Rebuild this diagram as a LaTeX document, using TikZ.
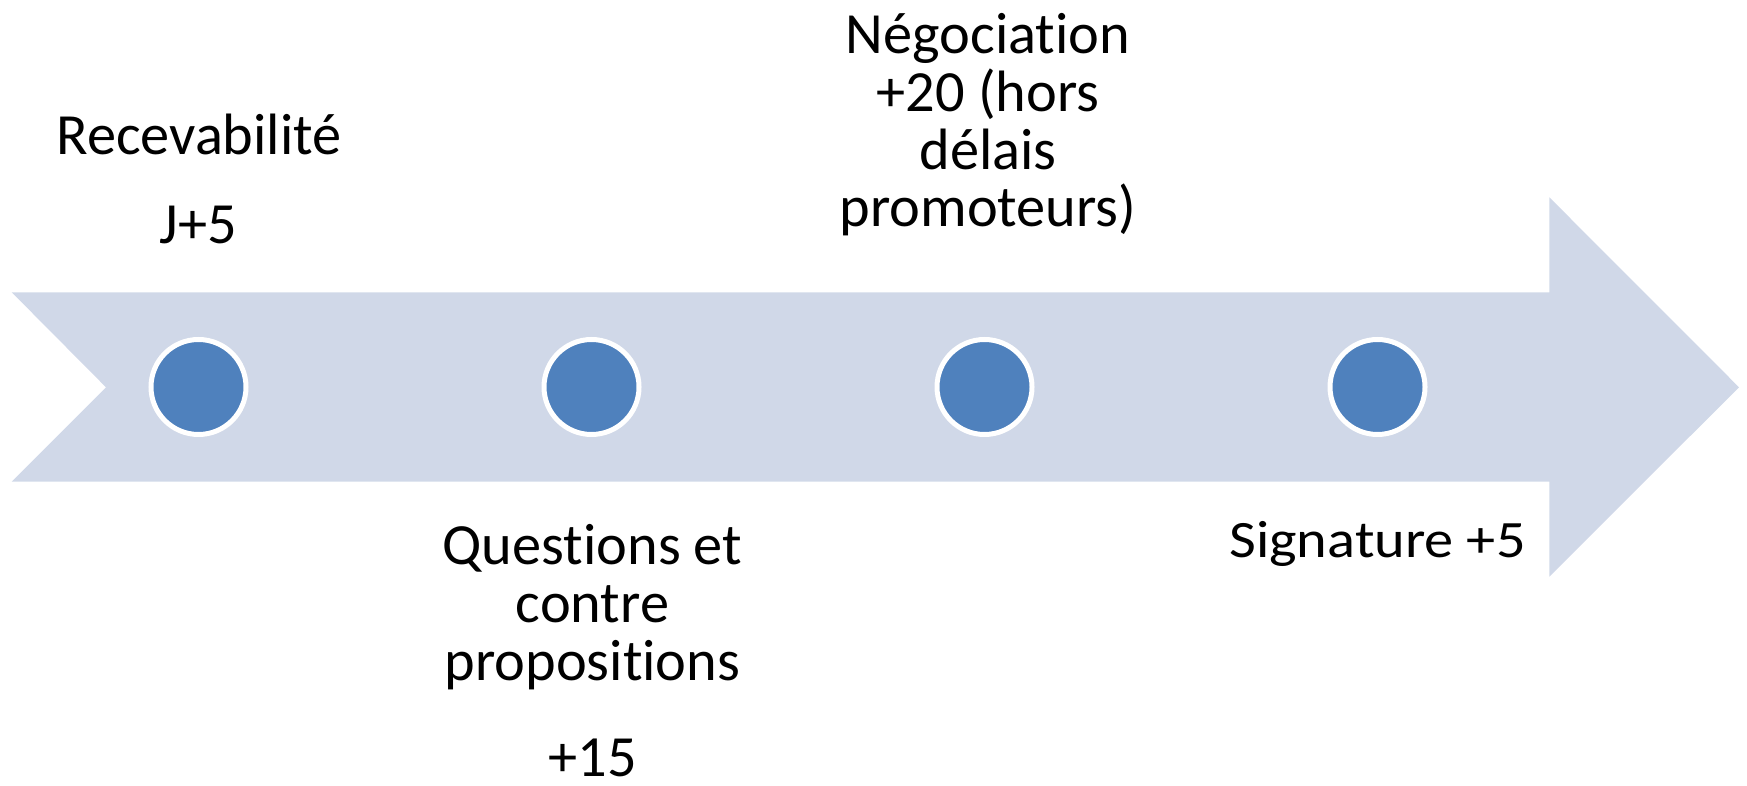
\documentclass[tikz,border=0pt]{standalone}
\usepackage{fontspec}
\setmainfont{Carlito}[Ligatures={NoCommon,NoRequired,NoContextual}]
\definecolor{shaftblue}{HTML}{D0D8E8}
\definecolor{dotblue}{HTML}{4F81BD}

\begin{document}
\begin{tikzpicture}[
        dot/.style={circle, fill=dotblue, draw=white, line width=0.05cm, minimum size=0.95cm, inner sep=0pt},
        lbl/.style={font=\fontsize{16.6}{16.4}\selectfont, align=center, anchor=base, inner sep=0pt}
    ]
        \useasboundingbox (0,0) rectangle (17.47,-7.86);

        % arrow
        \fill[shaftblue] (0.117,-2.923) -- (1.06,-3.873) -- (0.117,-4.817) -- (15.493,-4.817)
            -- (15.493,-5.767) -- (17.39,-3.873) -- (15.493,-1.973) -- (15.493,-2.923) -- cycle;

        % dots
        \node[dot] (d1) at (1.985,-3.87) {};
        \node[dot] (d2) at (5.915,-3.87) {};
        \node[dot] (d3) at (9.845,-3.87) {};
        \node[dot] (d4) at (13.775,-3.87) {};

        % labels above (base = last line)
        \node[lbl] (recv) at (1.99,-1.543) {Recevabilité};
        \node[lbl] (recvj) at (1.985,-2.44) {J+5};
        \node[lbl] (nego) at (9.88,-2.267) {Négociation\\+20 (hors\\délais\\promoteurs)};

        % labels below
        \node[lbl] (quest) at (5.925,-6.80) {Questions et\\contre\\propositions};
        \node[lbl] (questj) at (5.925,-7.767) {+15};
        \node[lbl, yscale=0.9, transform shape] (sign) at (13.775,-5.58) {Signature +5};

    \end{tikzpicture}
\end{document}
